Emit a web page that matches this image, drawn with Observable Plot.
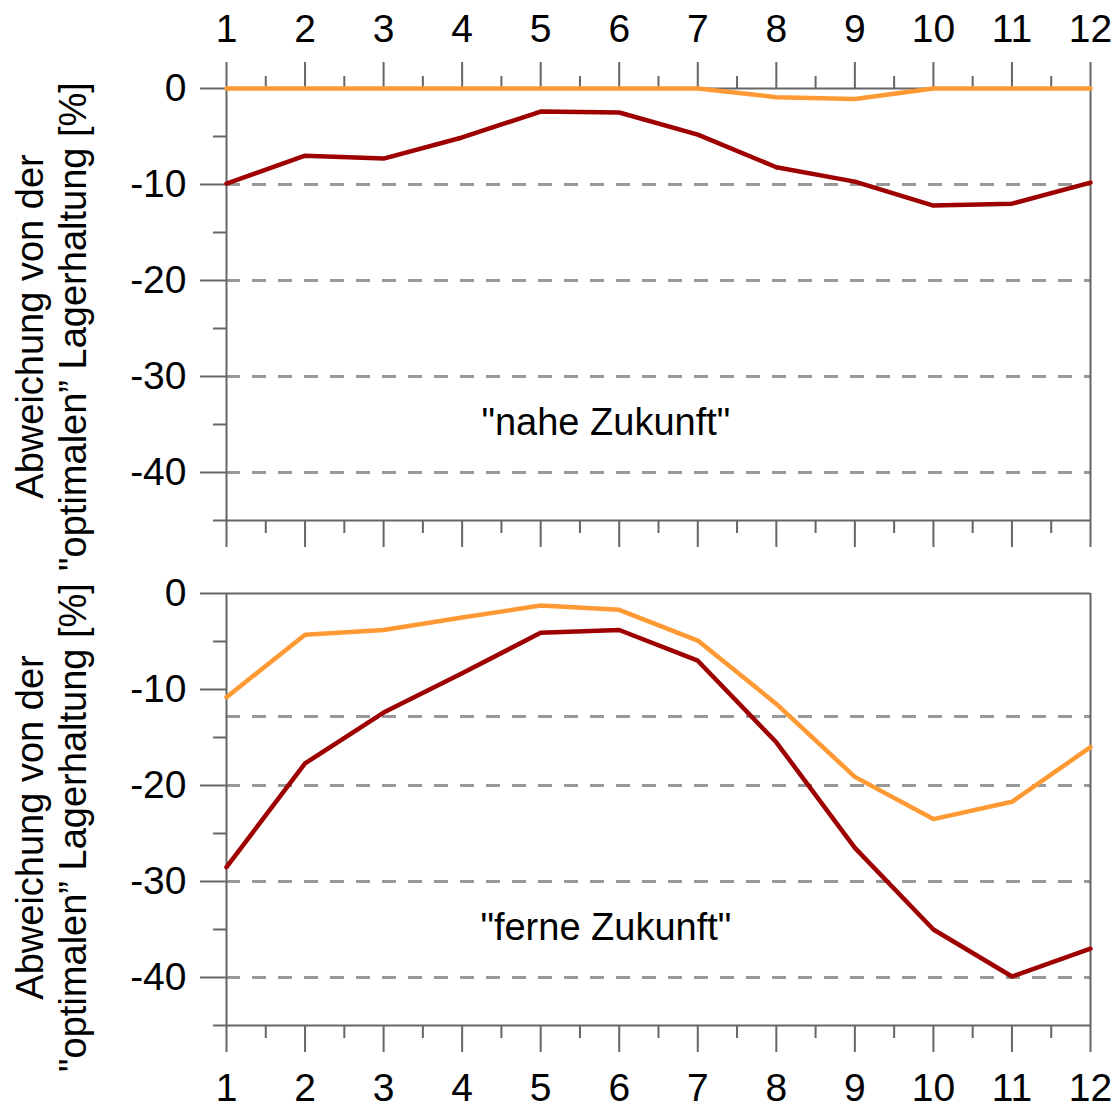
<!DOCTYPE html>
<html>
<head>
<meta charset="utf-8">
<script src="https://cdn.jsdelivr.net/npm/d3@7"></script>
<script src="https://cdn.jsdelivr.net/npm/@observablehq/plot@0.6"></script>
<style>
  html, body { margin: 0; padding: 0; background: #fff; }
  #chart { width: 1115px; }
  #chart svg { display: block; }
</style>
</head>
<body>
<div id="chart"></div>
<script>
// ---- data ----
const months = [1, 2, 3, 4, 5, 6, 7, 8, 9, 10, 11, 12];
const nearDark   = [-9.9, -7.0, -7.3, -5.1, -2.4, -2.5, -4.8, -8.2, -9.7, -12.2, -12.0, -9.8];
const nearOrange = [0, 0, 0, 0, 0, 0, 0, -0.9, -1.1, 0, 0, 0];
const farDark    = [-28.5, -17.7, -12.4, -8.3, -4.1, -3.8, -7.0, -15.5, -26.5, -35.0, -39.9, -37.0];
const farOrange  = [-10.8, -4.3, -3.8, -2.5, -1.25, -1.7, -4.9, -11.5, -19.1, -23.5, -21.7, -16.0];
const majorYTicks = [0, -10, -20, -30, -40];
const minorYTicks = [-5, -15, -25, -35, -45];
const minorXTicks = [1.5, 2.5, 3.5, 4.5, 5.5, 6.5, 7.5, 8.5, 9.5, 10.5, 11.5];
const nearGrid = [-10, -20, -30, -40];
const farGrid = [-12.8, -20, -30, -40];
const yDomain = [-45, 0];
const yLabel = "Abweichung von der\n\"optimalen\u201D Lagerhaltung [%]";
const nearNote = [{x: 5.83, y: -34.8, label: "\"nahe Zukunft\""}];
const farNote  = [{x: 5.83, y: -34.8, label: "\"ferne Zukunft\""}];

const DARK = "#9e0000";
const ORANGE = "#ff9933";
const AXIS = "#666";
const FONT = "Liberation Sans, Arial, Helvetica, sans-serif";
const FS = 39;
const LFS = 38;

function rows(values) {
  return months.map((m, i) => ({month: m, value: values[i]}));
}

function panel({dark, orange, grid, note, top, height, marginTop, marginBottom, labelDy}) {
  const xAxisMajor = Plot.axisX(months, {
    anchor: top ? "top" : "bottom",
    tickSize: 27, tickPadding: top ? 20 : 21,
    stroke: AXIS, strokeWidth: 2, fill: "#000", fontSize: FS,
    tickFormat: d => String(d), label: null
  });
  const xAxisMinor = Plot.axisX(minorXTicks, {
    anchor: top ? "top" : "bottom",
    tickSize: 13, stroke: AXIS, strokeWidth: 2, tickFormat: () => "", label: null
  });
  const xAxisOtherMajor = Plot.axisX(months, {
    anchor: top ? "bottom" : "top",
    tickSize: top ? 27 : 0, stroke: AXIS, strokeWidth: 2, tickFormat: () => "", label: null
  });
  const xAxisOtherMinor = Plot.axisX(minorXTicks, {
    anchor: top ? "bottom" : "top",
    tickSize: top ? 13 : 0, stroke: AXIS, strokeWidth: 2, tickFormat: () => "", label: null
  });
  return Plot.plot({
    width: 1115,
    height,
    marginLeft: 226,
    marginRight: 25,
    marginTop,
    marginBottom,
    style: {fontFamily: FONT, fontSize: FS + "px", color: "#000", background: "#fff", overflow: "visible"},
    x: {domain: [1, 12], label: null},
    y: {domain: yDomain, label: null},
    marks: [
      Plot.ruleY(grid, {stroke: "#999", strokeWidth: 3, strokeDasharray: "14,12"}),
      Plot.ruleY([0], {stroke: AXIS, strokeWidth: 2}),
      Plot.ruleY([-45], {stroke: AXIS, strokeWidth: 2}),
      Plot.ruleX([1], {stroke: AXIS, strokeWidth: 2}),
      Plot.ruleX([12], {stroke: AXIS, strokeWidth: 2}),
      xAxisMajor, xAxisMinor, xAxisOtherMajor, xAxisOtherMinor,
      Plot.axisY(majorYTicks, {
        anchor: "left", tickSize: 26, tickPadding: 14,
        stroke: AXIS, strokeWidth: 2, fill: "#000", fontSize: FS,
        tickFormat: d => String(d), label: null
      }),
      Plot.axisY(minorYTicks, {
        anchor: "left", tickSize: 13, stroke: AXIS, strokeWidth: 2,
        tickFormat: () => "", label: null
      }),
      Plot.line(rows(dark), {x: "month", y: "value", stroke: DARK, strokeWidth: 4.5, strokeLinejoin: "miter"}),
      Plot.line(rows(orange), {x: "month", y: "value", stroke: ORANGE, strokeWidth: 4.5, strokeLinejoin: "miter"}),
      Plot.text(note, {x: "x", y: "y", text: "label", fontSize: LFS, fill: "#000"}),
      Plot.text([yLabel], {
        text: d => d, frameAnchor: "left", rotate: -90, dx: -176, dy: labelDy,
        fontSize: LFS, lineHeight: 1.15, textAnchor: "middle", lineAnchor: "middle", fill: "#000"
      })
    ]
  });
}

const chart = document.getElementById("chart");
chart.appendChild(panel({
  dark: nearDark, orange: nearOrange, grid: nearGrid, note: nearNote,
  top: true, height: 560, marginTop: 88, marginBottom: 40, labelDy: 22
}));
chart.appendChild(panel({
  dark: farDark, orange: farOrange, grid: farGrid, note: farNote,
  top: false, height: 550, marginTop: 33, marginBottom: 85, labelDy: 18
}));
</script>
</body>
</html>
